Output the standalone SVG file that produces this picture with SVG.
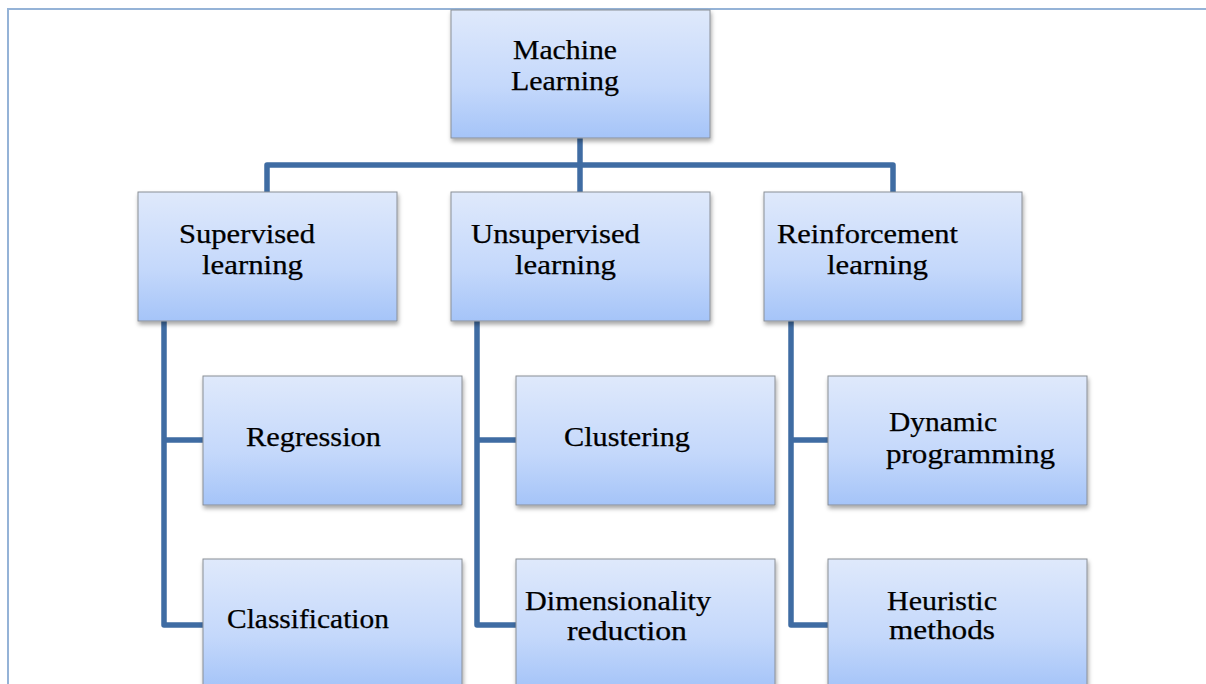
<svg xmlns="http://www.w3.org/2000/svg" width="1206" height="684" viewBox="0 0 1206 684">
<defs>
<linearGradient id="g" x1="0" y1="0" x2="0" y2="1">
<stop offset="0" stop-color="#dfe9fb"/>
<stop offset="0.6" stop-color="#c4d8fb"/>
<stop offset="1" stop-color="#a5c4f8"/>
</linearGradient>
<filter id="sh" x="-10%" y="-10%" width="125%" height="130%">
<feDropShadow dx="1" dy="3" stdDeviation="2" flood-color="#000" flood-opacity="0.35"/>
</filter>
</defs>
<style>
.box{fill:url(#g);stroke:#8a8f96;stroke-width:1;filter:url(#sh)}
.t{font-family:"Liberation Serif","Times New Roman",serif;font-size:26.5px;fill:#000;stroke:#000;stroke-width:0.25}
.c{fill:none;stroke:#3f6ca3;stroke-width:5.5;stroke-linejoin:round}
.frame{fill:none;stroke:#95b3d7;stroke-width:2}
</style>
<rect width="1206" height="684" fill="#fff"/>
<path class="frame" d="M8,684 V9 H1206"/>
<g id="connectors">
<path class="c" d="M580,138 V192"/>
<path class="c" d="M267,192 V165 H893 V192"/>
<path class="c" d="M164,321 V625 H203 M164,440 H203"/>
<path class="c" d="M477,321 V625 H516 M477,440 H516"/>
<path class="c" d="M791,321 V625 H828 M791,440 H828"/>
</g>
<g id="machine-learning">
<rect class="box" x="451" y="10" width="259" height="128"/>
<text class="t" x="513" y="59" textLength="104" lengthAdjust="spacingAndGlyphs">Machine</text>
<text class="t" x="511" y="90" textLength="108" lengthAdjust="spacingAndGlyphs">Learning</text>
</g>
<g id="supervised">
<rect class="box" x="138" y="192" width="259" height="129"/>
<text class="t" x="179" y="243" textLength="136" lengthAdjust="spacingAndGlyphs">Supervised</text>
<text class="t" x="202" y="274" textLength="101" lengthAdjust="spacingAndGlyphs">learning</text>
</g>
<g id="unsupervised">
<rect class="box" x="451" y="192" width="259" height="129"/>
<text class="t" x="471" y="243" textLength="169" lengthAdjust="spacingAndGlyphs">Unsupervised</text>
<text class="t" x="515" y="274" textLength="101" lengthAdjust="spacingAndGlyphs">learning</text>
</g>
<g id="reinforcement">
<rect class="box" x="764" y="192" width="258" height="129"/>
<text class="t" x="777" y="243" textLength="181" lengthAdjust="spacingAndGlyphs">Reinforcement</text>
<text class="t" x="827" y="274" textLength="101" lengthAdjust="spacingAndGlyphs">learning</text>
</g>
<g id="regression">
<rect class="box" x="203" y="376" width="259" height="129"/>
<text class="t" x="246" y="446" textLength="135" lengthAdjust="spacingAndGlyphs">Regression</text>
</g>
<g id="classification">
<rect class="box" x="203" y="559" width="259" height="129"/>
<text class="t" x="227" y="628" textLength="162" lengthAdjust="spacingAndGlyphs">Classification</text>
</g>
<g id="clustering">
<rect class="box" x="516" y="376" width="259" height="129"/>
<text class="t" x="564" y="446" textLength="126" lengthAdjust="spacingAndGlyphs">Clustering</text>
</g>
<g id="dimensionality-reduction">
<rect class="box" x="516" y="559" width="259" height="129"/>
<text class="t" x="525" y="610" textLength="186" lengthAdjust="spacingAndGlyphs">Dimensionality</text>
<text class="t" x="567" y="640" textLength="120" lengthAdjust="spacingAndGlyphs">reduction</text>
</g>
<g id="dynamic-programming">
<rect class="box" x="828" y="376" width="259" height="129"/>
<text class="t" x="889" y="431" textLength="108" lengthAdjust="spacingAndGlyphs">Dynamic</text>
<text class="t" x="886" y="463" textLength="169" lengthAdjust="spacingAndGlyphs">programming</text>
</g>
<g id="heuristic-methods">
<rect class="box" x="828" y="559" width="259" height="129"/>
<text class="t" x="887" y="610" textLength="110" lengthAdjust="spacingAndGlyphs">Heuristic</text>
<text class="t" x="889" y="639" textLength="106" lengthAdjust="spacingAndGlyphs">methods</text>
</g>
</svg>
